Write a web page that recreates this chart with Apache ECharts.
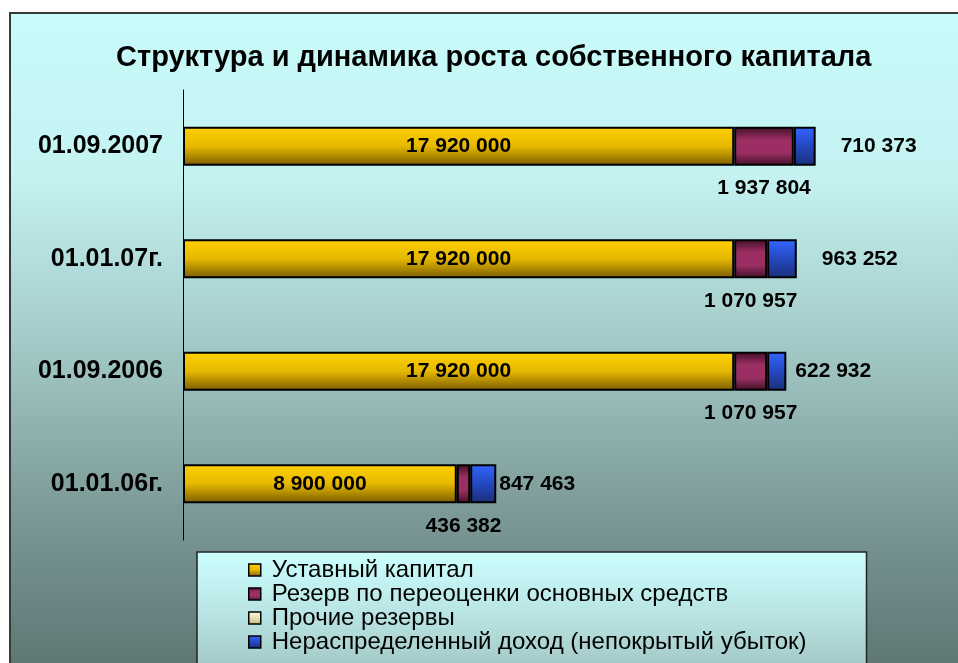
<!DOCTYPE html>
<html>
<head>
	<meta charset="utf-8"/>
	<title>Структура и динамика роста собственного капитала</title>
	<script src="https://cdn.jsdelivr.net/npm/echarts@6/dist/echarts.min.js"></script>
</head>
<body style="margin: 0; background: #fff;">

	<div id="chart" style="width: 958px; height: 663px;"></div>

	<script>
		// данные
		var dates = ['01.09.2007', '01.01.07г.', '01.09.2006', '01.01.06г.'];
		var ustavCap = [17920000, 17920000, 17920000, 8900000];
		var rezervPereocenki = [1937804, 1070957, 1070957, 436382];
		var prochieRezervy = [0, 0, 0, 0];
		var neraspDohod = [710373, 963252, 622932, 847463];

		// отступ подписи синего сегмента (как в исходной картинке)
		var blueLabelGap = [25, 25, 9, 3];

		var font = '"Liberation Sans", Arial, sans-serif';

		function fmt(v) {
			return String(v).replace(/\B(?=(\d{3})+(?!\d))/g, ' ');
		}

		function grad(stops) {
			return new echarts.graphic.LinearGradient(0, 0, 0, 1, stops.map(function (c, i) {
				return { offset: i / (stops.length - 1), color: c };
			}));
		}

		var labelText = {
			fontFamily: font,
			fontSize: 21,
			fontWeight: 'bold',
			color: '#000'
		};

		var chart = echarts.init(document.getElementById('chart'));

		var option = {
			backgroundColor: '#fff',
			animation: false,
			title: {
				text: 'Структура и динамика роста собственного капитала',
				left: 111,
				top: 38,
				textStyle: {
					fontFamily: font,
					fontSize: 29,
					fontWeight: 'bold',
					color: '#000'
				}
			},
			graphic: [
				{
					type: 'rect',
					z: -10,
					silent: true,
					shape: { x: 10, y: 13, width: 960, height: 660 },
					style: {
						fill: grad(['#c9fbfb', '#c3f2f1', '#a3cac8', '#7c9a98', '#5c7573']),
						stroke: '#3a3a3a',
						lineWidth: 2
					}
				}
			],
			legend: {
				orient: 'vertical',
				left: 197,
				top: 552,
				height: 110,
				padding: [6, 60, 40, 51],
				itemWidth: 12,
				itemHeight: 12,
				itemGap: 0,
				icon: 'rect',
				backgroundColor: grad(['#ccffff', '#b5e0df', '#98bab8']),
				borderColor: '#222',
				borderWidth: 1.5,
				itemStyle: { borderColor: '#000', borderWidth: 1.5 },
				textStyle: {
					fontFamily: font,
					fontSize: 24,
					color: '#000',
					padding: [0, 0, 0, 6]
				}
			},
			grid: {
				left: 183,
				top: 90,
				height: 450,
				width: 769
			},
			xAxis: {
				type: 'value',
				min: 0,
				max: 25000000,
				show: false
			},
			yAxis: {
				type: 'category',
				inverse: true,
				data: dates,
				axisLine: { show: true, lineStyle: { color: '#000', width: 1 } },
				axisTick: { show: false },
				axisLabel: {
					margin: 20,
					fontFamily: font,
					fontSize: 25,
					fontWeight: 'bold',
					color: '#000'
				}
			},
			series: [
				{
					name: 'Уставный капитал',
					type: 'bar',
					stack: 'cap',
					barWidth: 39,
					itemStyle: {
						color: grad(['#ffd200', '#e6b800', '#7a5c00']),
						borderColor: '#000',
						borderWidth: 2
					},
					label: Object.assign({
						show: true,
						position: 'inside',
						formatter: function (p) { return fmt(p.value); }
					}, labelText),
					data: ustavCap
				},
				{
					name: 'Резерв по переоценки основных средств',
					type: 'bar',
					stack: 'cap',
					itemStyle: {
						color: grad(['#3e0f24', '#9b2f63', '#9b2f63', '#3e0f24']),
						borderColor: '#000',
						borderWidth: 2
					},
					label: Object.assign({
						show: true,
						position: 'bottom',
						distance: 12,
						formatter: function (p) { return fmt(p.value); }
					}, labelText),
					data: rezervPereocenki
				},
				{
					name: 'Прочие резервы',
					type: 'bar',
					stack: 'cap',
					itemStyle: {
						color: grad(['#fffde0', '#e8e2b0', '#bdb483']),
						borderColor: '#000',
						borderWidth: 0
					},
					data: prochieRezervy
				},
				{
					name: 'Нераспределенный доход (непокрытый убыток)',
					type: 'bar',
					stack: 'cap',
					itemStyle: {
						color: grad(['#3366ff', '#2448c0', '#1a2f78']),
						borderColor: '#000',
						borderWidth: 2
					},
					label: Object.assign({
						show: true,
						position: 'right',
						formatter: function (p) { return fmt(p.value); }
					}, labelText),
					data: neraspDohod.map(function (v, i) {
						return { value: v, label: { distance: blueLabelGap[i] } };
					})
				}
			]
		};

		chart.setOption(option);
	</script>
</body>
</html>
